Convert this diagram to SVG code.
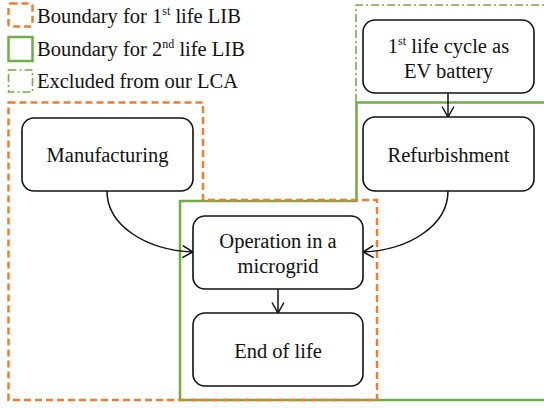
<svg xmlns="http://www.w3.org/2000/svg" width="544" height="408" viewBox="0 0 544 408">
<style>
text{font-family:"Liberation Serif",serif;font-size:20.5px;fill:#111}
.c{text-anchor:middle}
.node{fill:#fff;stroke:#111;stroke-width:1.6}
.b1{fill:none;stroke:#ED7D31;stroke-width:2.5;stroke-dasharray:7,4}
.b2{fill:none;stroke:#70AD47;stroke-width:2.5}
.b3{fill:none;stroke:#70AD47;stroke-width:1.6;stroke-dasharray:8,3,2,3}
.edge{fill:none;stroke:#111;stroke-width:1.5;marker-end:url(#arr)}
</style>
<defs>
<marker id="arr" viewBox="0 0 12 14" refX="11.5" refY="7" markerWidth="12" markerHeight="14" markerUnits="userSpaceOnUse" orient="auto">
<path d="M1,1 L11.5,7 L1,13" fill="none" stroke="#111" stroke-width="1.5"/>
</marker>
</defs>
<rect width="544" height="408" fill="#fff"/>
<g id="legend">
<rect class="b1" x="8.5" y="3.5" width="24" height="23" rx="2"/>
<text font-family="Liberation Serif, serif" x="37" y="23">Boundary for 1<tspan font-size="12" dy="-8">st</tspan><tspan dy="8"> life LIB</tspan></text>
<rect class="b2" x="8.5" y="37" width="24" height="24"/>
<text font-family="Liberation Serif, serif" x="37" y="56">Boundary for 2<tspan font-size="12" dy="-8">nd</tspan><tspan dy="8"> life LIB</tspan></text>
<rect class="b3" x="8.5" y="70" width="24" height="22"/>
<text font-family="Liberation Serif, serif" x="37" y="88">Excluded from our LCA</text>
</g>
<g id="boundaries">
<path class="b3" d="M356,102 V5 H544"/>
<path class="b2" d="M544,102.5 H356.5 V201 H180 V400 H544"/>
<path class="b1" d="M8.5,102.5 H203 V200 H377 V400 H8.5 Z"/>
</g>
<g id="connectors">
<path class="edge" d="M448,93 V117"/>
<path class="edge" d="M278,289 V313"/>
<path class="edge" d="M107,191 C107,225 145,250 193,252"/>
<path class="edge" d="M448,191 C448,225 410,250 363,252"/>
</g>
<g id="n-ev">
<rect class="node" x="363" y="20" width="171" height="73" rx="12"/>
<text class="c" font-family="Liberation Serif, serif" x="448.5" y="53">1<tspan font-size="12" dy="-8">st</tspan><tspan dy="8"> life cycle as</tspan></text>
<text class="c" font-family="Liberation Serif, serif" x="448.5" y="78">EV battery</text>
</g>
<g id="n-refurb">
<rect class="node" x="363" y="117" width="171" height="74" rx="12"/>
<text class="c" font-family="Liberation Serif, serif" x="448.5" y="162">Refurbishment</text>
</g>
<g id="n-manuf">
<rect class="node" x="22" y="118" width="171" height="73" rx="12"/>
<text class="c" font-family="Liberation Serif, serif" x="107.5" y="162">Manufacturing</text>
</g>
<g id="n-op">
<rect class="node" x="193" y="216" width="170" height="73" rx="12"/>
<text class="c" font-family="Liberation Serif, serif" x="278" y="248">Operation in a</text>
<text class="c" font-family="Liberation Serif, serif" x="278" y="273">microgrid</text>
</g>
<g id="n-end">
<rect class="node" x="193" y="313" width="170" height="73" rx="12"/>
<text class="c" font-family="Liberation Serif, serif" x="278" y="358">End of life</text>
</g>
</svg>
